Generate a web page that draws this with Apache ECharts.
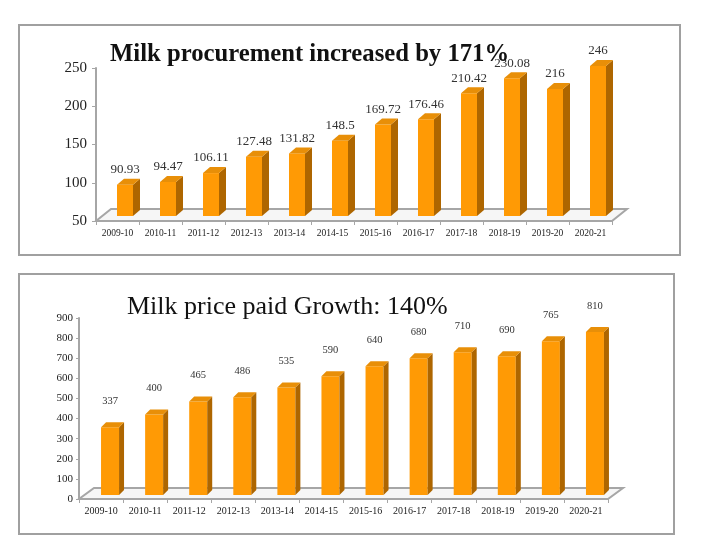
<!DOCTYPE html>
<html>
<head>
<meta charset="utf-8">
<script src="https://cdn.jsdelivr.net/npm/echarts@6/dist/echarts.min.js"></script>
<style>
html,body{margin:0;padding:0;background:#fff;}
#chart{width:705px;height:551px;}
</style>
</head>
<body>
<div id="chart"></div>
<script>
// ---- data ----
const categories = ['2009-10','2010-11','2011-12','2012-13','2013-14','2014-15','2015-16','2016-17','2017-18','2018-19','2019-20','2020-21'];
const procurement = [90.93, 94.47, 106.11, 127.48, 131.82, 148.5, 169.72, 176.46, 210.42, 230.08, 216, 246];
const pricePaid = [337, 400, 465, 486, 535, 590, 640, 680, 710, 690, 765, 810];
const procTicks = [50, 100, 150, 200, 250];
const priceTicks = [0, 100, 200, 300, 400, 500, 600, 700, 800, 900];
const title1 = 'Milk procurement increased by 171%';
const title2 = 'Milk price paid Growth: 140%';

// ---- styles ----
const FRONT = '#FF9A05';
const SIDE = '#AE6600';
const TOP = '#E88F08';
const GRAYLINE = '#A6A6A6';

function bar3d(cfg) {
  return function (params, api) {
    const cat = api.value(0), val = api.value(1);
    const p = api.coord([cat, val]);
    const b = api.coord([cat, cfg.min]);
    const w = cfg.w, d = cfg.d, dd = cfg.dd;
    const x0 = p[0] - w / 2 + cfg.sx;
    const yt = p[1] - cfg.sy;
    const yb = b[1] - cfg.sy;
    return {
      type: 'group',
      children: [
        {type: 'rect', shape: {x: x0, y: yt, width: w, height: yb - yt}, style: {fill: FRONT}},
        {type: 'polygon', shape: {points: [[x0 + w, yt], [x0 + w + d, yt - dd], [x0 + w + d, yb - dd], [x0 + w, yb]]}, style: {fill: SIDE}},
        {type: 'polygon', shape: {points: [[x0, yt], [x0 + d, yt - dd], [x0 + w + d, yt - dd], [x0 + w, yt]]}, style: {fill: TOP}},
        {type: 'text', style: {text: String(val), x: x0 + w / 2 + cfg.lx, y: p[1] - cfg.labelUp, align: 'center', verticalAlign: 'middle',
          fontFamily: 'Liberation Serif', fontSize: cfg.labelSize, fill: '#333'}}
      ]
    };
  };
}

function floor(cfg) {
  return function (params, api) {
    const cs = params.coordSys;
    const x = cs.x, y = cs.y + cs.height, w = cs.width;
    return {
      type: 'polygon',
      shape: {points: [[x, y], [x + w, y], [x + w + cfg.dx, y - cfg.dy], [x + cfg.dx, y - cfg.dy]]},
      style: {fill: '#F6F6F6', stroke: GRAYLINE, lineWidth: 2}
    };
  };
}

const chart = echarts.init(document.getElementById('chart'), null, {renderer: 'canvas'});

const option = {
  backgroundColor: '#fff',
  animation: false,
  title: [
    {text: title1, left: 110, top: 42, padding: 0,
     textStyle: {fontFamily: 'Liberation Serif', fontWeight: 'bold', fontSize: 24.7, color: '#111'}},
    {text: title2, left: 127, top: 294, padding: 0,
     textStyle: {fontFamily: 'Liberation Serif', fontWeight: 'normal', fontSize: 26, color: '#111'}}
  ],
  graphic: [
    {type: 'rect', shape: {x: 19, y: 25, width: 661, height: 230}, style: {fill: 'none', stroke: '#A0A0A0', lineWidth: 2}, z: -10},
    {type: 'rect', shape: {x: 19, y: 274, width: 655, height: 260}, style: {fill: 'none', stroke: '#A0A0A0', lineWidth: 2}, z: -10}
  ],
  grid: [
    {left: 96, top: 68, width: 516, height: 153},
    {left: 79, top: 318, width: 529, height: 181}
  ],
  xAxis: [
    {type: 'category', gridIndex: 0, data: categories,
     axisLine: {show: true, lineStyle: {color: GRAYLINE, width: 2}},
     axisTick: {show: true, length: 4, lineStyle: {color: GRAYLINE}},
     axisLabel: {interval: 0, margin: 7, fontFamily: 'Liberation Serif', fontSize: 9.5, color: '#222'}},
    {type: 'category', gridIndex: 1, data: categories,
     axisLine: {show: true, lineStyle: {color: GRAYLINE, width: 2}},
     axisTick: {show: true, length: 4, lineStyle: {color: GRAYLINE}},
     axisLabel: {interval: 0, margin: 7, fontFamily: 'Liberation Serif', fontSize: 10, color: '#222'}}
  ],
  yAxis: [
    {type: 'value', gridIndex: 0, min: procTicks[0], max: procTicks[procTicks.length - 1], interval: procTicks[1] - procTicks[0],
     splitLine: {show: false},
     axisLine: {show: true, lineStyle: {color: GRAYLINE, width: 2}},
     axisTick: {show: true, length: 4, lineStyle: {color: GRAYLINE}},
     axisLabel: {margin: 9, fontFamily: 'Liberation Serif', fontSize: 15, color: '#222'}},
    {type: 'value', gridIndex: 1, min: priceTicks[0], max: priceTicks[priceTicks.length - 1], interval: priceTicks[1] - priceTicks[0],
     splitLine: {show: false},
     axisLine: {show: true, lineStyle: {color: GRAYLINE, width: 2}},
     axisTick: {show: true, length: 3, lineStyle: {color: GRAYLINE}},
     axisLabel: {margin: 6, fontFamily: 'Liberation Serif', fontSize: 11, color: '#222'}}
  ],
  series: [
    {type: 'custom', xAxisIndex: 0, yAxisIndex: 0, z: 1, silent: true,
     renderItem: floor({dx: 15, dy: 12}), data: [[0, procTicks[0]]], encode: {x: 0, y: 1}},
    {type: 'custom', xAxisIndex: 0, yAxisIndex: 0, z: 3, clip: false,
     renderItem: bar3d({min: procTicks[0], w: 16, d: 7, dd: 6, sx: 7.5, sy: 5, labelUp: 20, labelSize: 13, lx: 0}),
     data: procurement.map((v, i) => [i, v]), encode: {x: 0, y: 1}},
    {type: 'custom', xAxisIndex: 1, yAxisIndex: 1, z: 1, silent: true,
     renderItem: floor({dx: 15, dy: 11}), data: [[0, priceTicks[0]]], encode: {x: 0, y: 1}},
    {type: 'custom', xAxisIndex: 1, yAxisIndex: 1, z: 3, clip: false,
     renderItem: bar3d({min: priceTicks[0], w: 18, d: 5, dd: 5, sx: 9, sy: 4, labelUp: 30, labelSize: 10.5, lx: 0}),
     data: pricePaid.map((v, i) => [i, v]), encode: {x: 0, y: 1}}
  ]
};
chart.setOption(option);
</script>
</body>
</html>
